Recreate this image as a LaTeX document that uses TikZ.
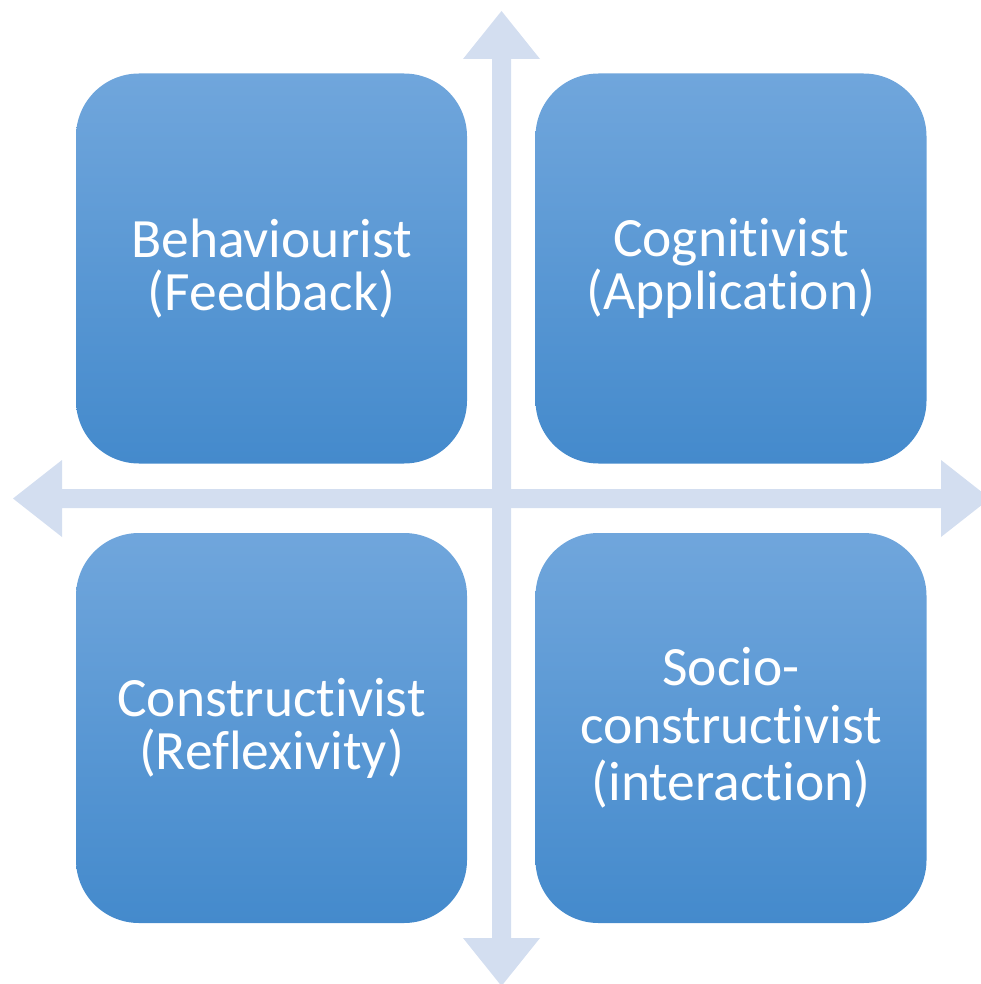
\documentclass[tikz,border=0pt]{standalone}
\usepackage{fontspec}
\setmainfont[Ligatures=NoCommon]{Carlito}
\definecolor{boxtop}{RGB}{112,166,220}
\definecolor{boxbot}{RGB}{68,138,204}
\definecolor{axis}{RGB}{211,222,240}
\begin{document}
\begin{tikzpicture}[x=1pt,y=-1pt,
  quad/.style={rectangle, rounded corners=63pt, minimum width=391pt,
    minimum height=390pt, inner sep=0pt, top color=boxtop,
    bottom color=boxbot, draw=none},
  label/.style={text=white, align=center, inner sep=0pt,
    font=\fontsize{55.5}{53}\selectfont},
  label3/.style={label, font=\fontsize{55.5}{57.5}\selectfont}]
\useasboundingbox (0,0) rectangle (981,984);
% axes: vertical and horizontal double arrows
\fill[axis] (501.5,11) -- (540,59) -- (511,59) -- (511,938) -- (540,938)
  -- (501.5,986) -- (463,938) -- (492,938) -- (492,59) -- (463,59) -- cycle;
\fill[axis] (13,498.5) -- (62,460) -- (62,489) -- (941,489) -- (941,460)
  -- (990,498.5) -- (941,537) -- (941,508) -- (62,508) -- (62,537) -- cycle;
% quadrants
\node[quad] (tl) at (271.5,268.5) {};
\node[quad] (tr) at (731,268.5) {};
\node[quad] (bl) at (271.5,728) {};
\node[quad] (br) at (731,728) {};
\node[label] (tlt) at (tl) {Behaviourist\\(Feedback)};
\node[label] (trt) at (tr) {Cognitivist\\(Application)};
\node[label] (blt) at (bl) {Constructivist\\(Reflexivity)};
\node[label3] (brt) at (br) {Socio-\\constructivist\\(interaction)};
\end{tikzpicture}
\end{document}
